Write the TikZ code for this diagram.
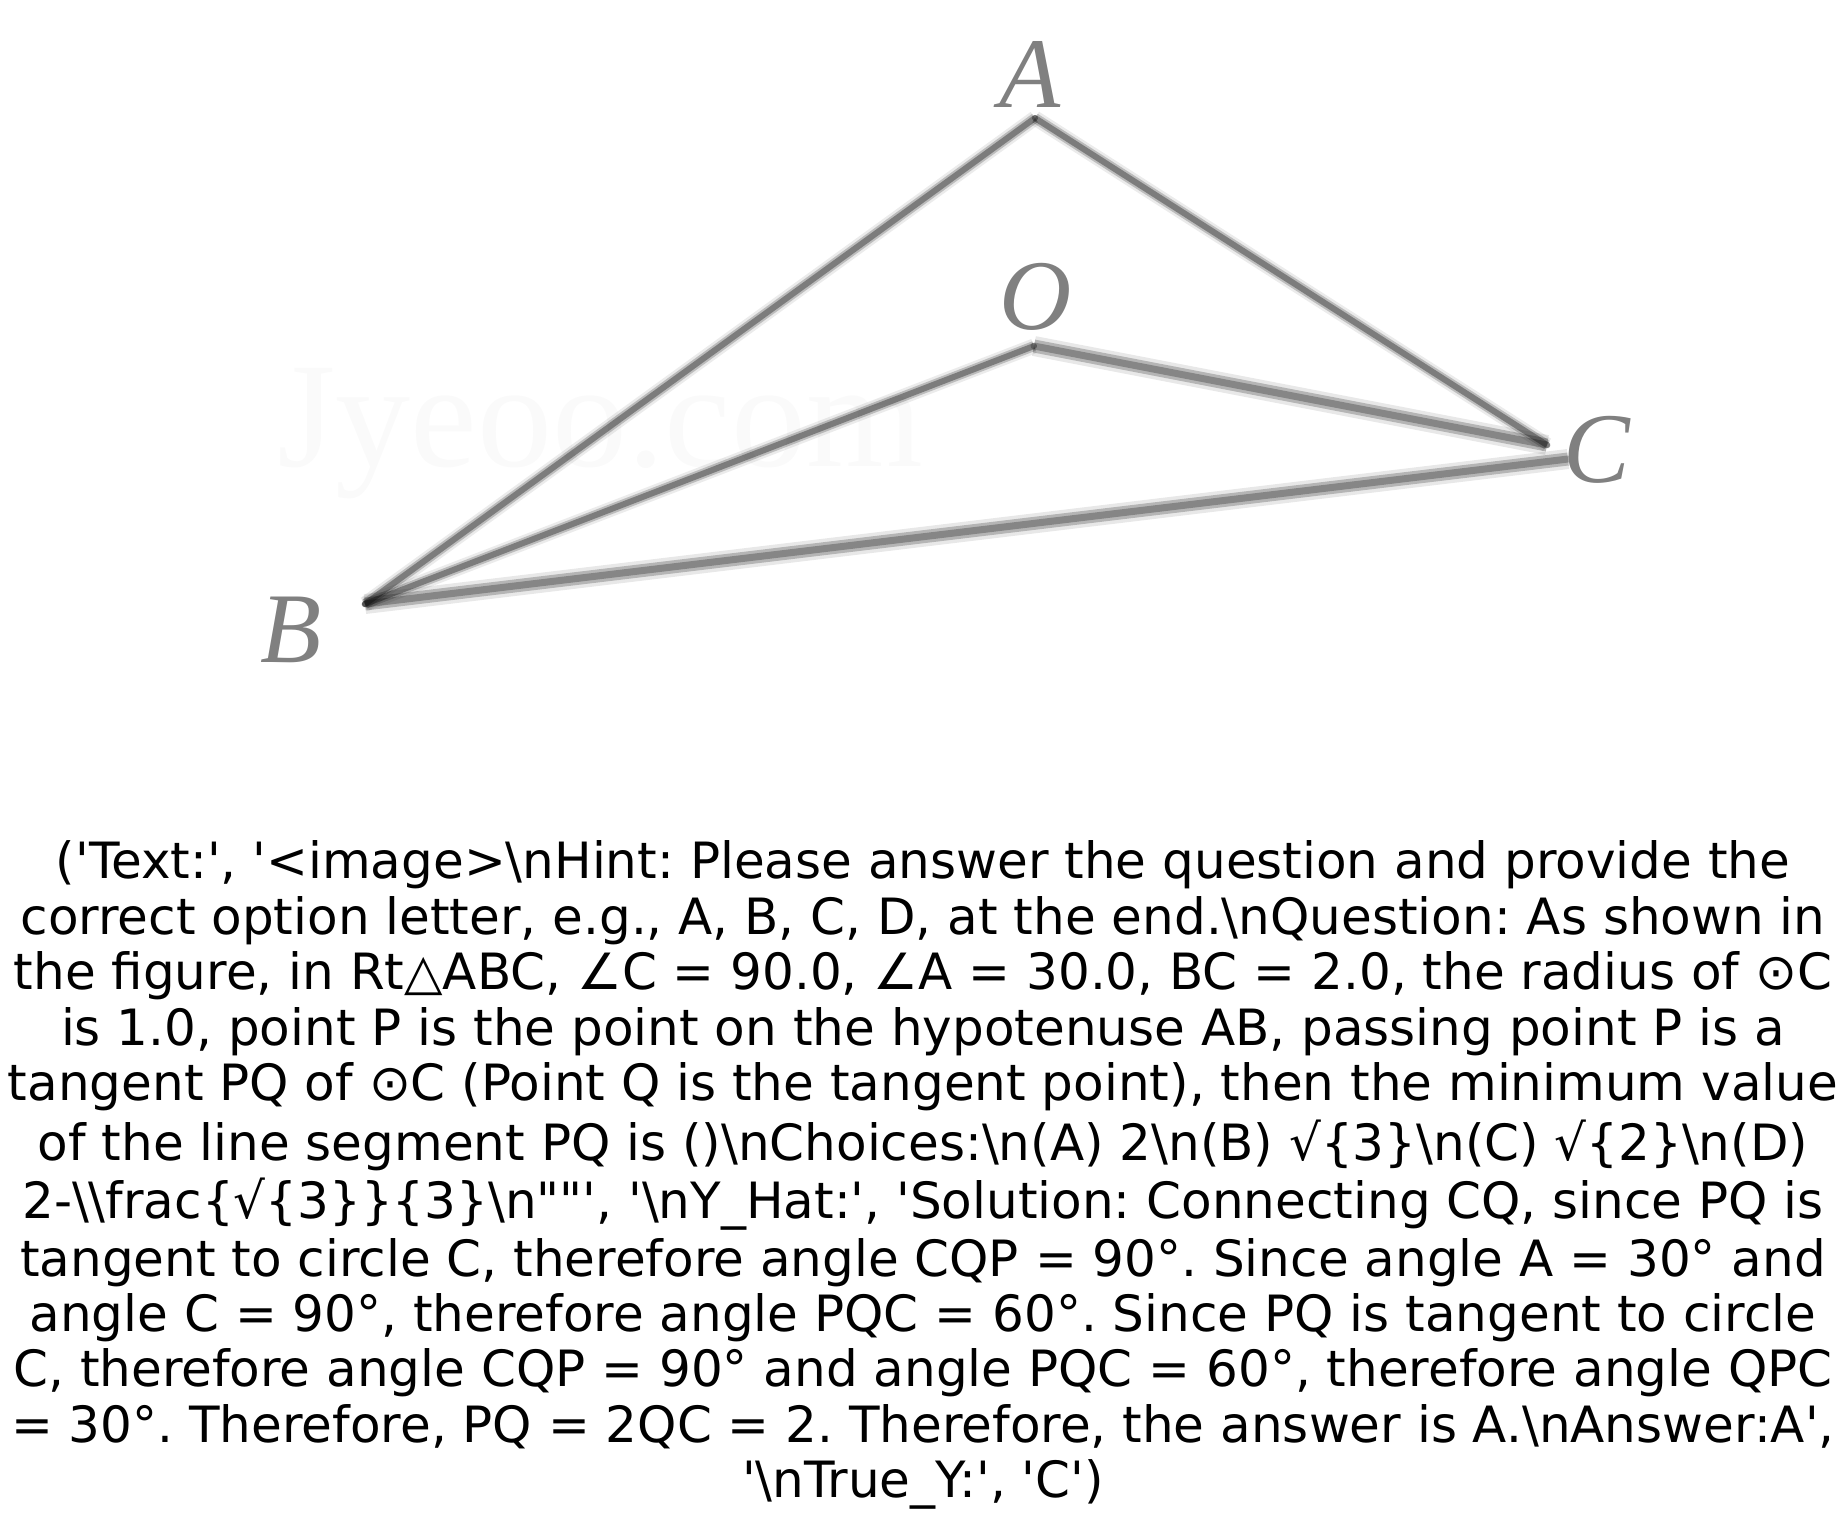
\documentclass[tikz,border=0pt]{standalone}
\usepackage{fontspec}
\newfontfamily\captionfont{DejaVu Sans}
\newfontfamily\letterfont{Liberation Serif}
\newcommand{\bsn}{\textbackslash n}
\tikzset{
x=0.5pt, % one unit is one pixel of the reference
y=-0.5pt, % and y runs down the page
captionline/.style={anchor=base, inner sep=0pt, font=\captionfont\fontsize{25}{30}\selectfont}, % one line of the text below the figure
figletter/.style={inner sep=0pt, text=black!50, font=\letterfont\itshape\fontsize{50}{50}\selectfont}, % the letters on the vertices
sharpedge/.style={line cap=round, line width=3pt, draw=black, draw opacity=0.34, preaction={draw=black, draw opacity=0.2, line width=5pt}, preaction={draw=black, draw opacity=0.08, line width=7.5pt}}, % the narrow edges
softedge/.style={line cap=round, line width=3.5pt, draw=black, draw opacity=0.26, preaction={draw=black, draw opacity=0.22, line width=6.5pt}, preaction={draw=black, draw opacity=0.09, line width=10pt}}, % the wide pale edges
}

\begin{document}
\begin{tikzpicture}
\useasboundingbox (0,0) rectangle (1846,1539);
\node[inner sep=0pt, text=black!2, font=\letterfont\fontsize{75}{75}\selectfont] (mark) at (600,434) {Jyeoo.com};
\coordinate (A) at (1035,118);
\coordinate (B) at (365,604);
\coordinate (C) at (1547,445);
\coordinate (Cb) at (1568,459);
\coordinate (O) at (1034,346);
\draw[softedge] (B) -- (Cb);
\draw[softedge] (O) -- (C);
\draw[sharpedge] (B) -- (O);
\draw[sharpedge] (A) -- (B);
\draw[sharpedge] (A) -- (C);
\node[figletter] (labA) at (1030,74) {A};
\node[figletter] (labO) at (1036,297) {O};
\node[figletter] (labB) at (291,630) {B};
\node[figletter] (labC) at (1597,450) {C};
\frenchspacing
\node[captionline] (l1) at (923,878) {('Text:', '<image>\bsn Hint: Please answer the question and provide the};
\node[captionline] (l2) at (923,934) {correct option letter, e.g., A, B, C, D, at the end.\bsn Question: As shown in};
\node[captionline] (l3) at (923,989) {the figure, in Rt△ABC, ∠C = 90.0, ∠A = 30.0, BC = 2.0, the radius of ⊙C};
\node[captionline] (l4) at (923,1045) {is 1.0, point P is the point on the hypotenuse AB, passing point P is a};
\node[captionline] (l5) at (923,1100) {tangent PQ of ⊙C (Point Q is the tangent point), then the minimum value};
\node[captionline] (l6) at (923,1160) {of the line segment PQ is ()\bsn Choices:\bsn (A) 2\bsn (B) √\{3\}\bsn (C) √\{2\}\bsn (D)};
\node[captionline] (l7) at (923,1218) {2-\textbackslash\textbackslash frac\{√\{3\}\}\{3\}\bsn ""', '\bsn Y\_Hat:', 'Solution: Connecting CQ, since PQ is};
\node[captionline] (l8) at (923,1276) {tangent to circle C, therefore angle CQP = 90°. Since angle A = 30° and};
\node[captionline] (l9) at (923,1331) {angle C = 90°, therefore angle PQC = 60°. Since PQ is tangent to circle};
\node[captionline] (l10) at (923,1386) {C, therefore angle CQP = 90° and angle PQC = 60°, therefore angle QPC};
\node[captionline] (l11) at (923,1442) {= 30°. Therefore, PQ = 2QC = 2. Therefore, the answer is A.\bsn Answer:A',};
\node[captionline] (l12) at (923,1497) {'\bsn True\_Y:', 'C')};
\end{tikzpicture}
\end{document}
